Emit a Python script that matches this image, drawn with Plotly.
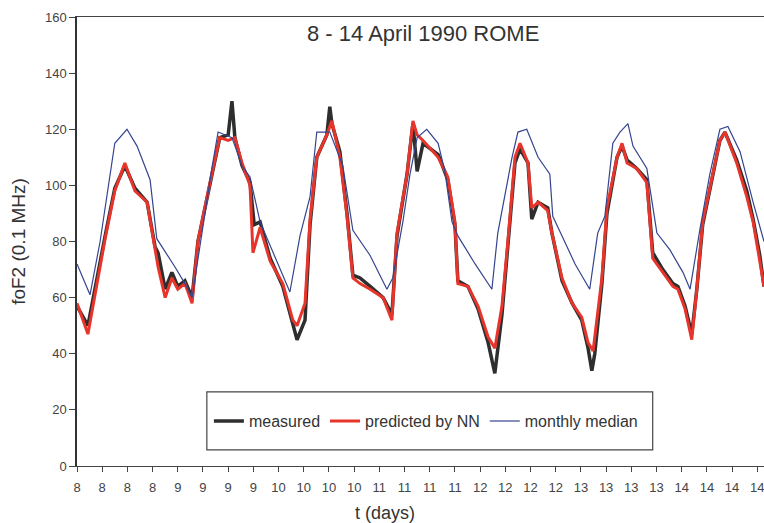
import plotly.graph_objects as go

# x values are hours since 8 April 00:00
tick_hours = list(range(0, 163, 6))
tick_labels = ["8", "8", "8", "8", "9", "9", "9", "9", "10", "10", "10", "10",
               "11", "11", "11", "11", "12", "12", "12", "12", "13", "13", "13", "13",
               "14", "14", "14", "14"]

t_measured = [0, 2.6, 6.7, 9.0, 11.4, 13.8, 16.7, 18.6, 19.3, 21, 22.6, 24, 25.7, 27.4,
              28.8, 32.1, 34, 36, 36.9, 37.6, 39.3, 41.2, 42.2, 43.6, 46, 49, 51.4, 52.4,
              54.3, 55.5, 57.1, 59.5, 60.2, 60.7, 62.6, 64.3, 65.7, 67.4, 69.8, 72.9, 75,
              76.2, 78.6, 80, 81, 82.4, 86, 88.3, 90, 90.7, 93.1, 95.5, 97.9, 99, 99.5,
              101.2, 102.6, 104.3, 105.5, 107.4, 108.3, 109.8, 112.1, 113.1, 115.5, 117.9,
              120.2, 121.7, 122.6, 123.3, 125, 126.2, 128.6, 129.8, 131, 133.3, 135.7,
              137.1, 139.5, 141.9, 143.1, 144.8, 146.4, 147.6, 149, 151.4, 153.1, 154.3,
              157.1, 159.5, 161, 162.6, 163.6]
v_measured = [57, 50, 82, 99, 107, 99, 94, 78, 76, 63, 69, 64, 66, 60,
              80, 104, 117, 118, 130, 117, 107, 101, 86, 87, 74, 64, 50, 45,
              52, 86, 110, 118, 128, 122, 112, 90, 68, 67, 64, 60, 54,
              82, 104, 122, 105, 115, 111, 102, 86, 66, 64, 56, 44, 36, 33,
              54, 80, 108, 113, 108, 88, 94, 92, 83, 66, 58,
              52, 42, 34, 40, 65, 90, 110, 114, 109, 106, 102,
              76, 70, 65, 64, 57, 47, 63, 86, 104, 116, 119,
              109, 98, 88, 75, 64]

t_predicted = [0, 2.6, 6.7, 9.0, 11.4, 13.8, 16.7, 18.6, 19.3, 21, 22.6, 24, 25.7, 27.4,
               28.8, 32.1, 34, 36, 37.6, 39.3, 41.2, 41.9, 43.6, 46, 49, 51.4, 52.4,
               54.3, 55.5, 57.1, 59.5, 60.7, 62.6, 64.3, 65.7, 67.4, 69.8, 72.9, 75,
               76.2, 78.6, 80, 81, 82.4, 86, 88.3, 90, 90.7, 93.1, 95.5, 97.9, 99.5,
               101.2, 102.6, 104.3, 105.5, 107.4, 108.3, 109.8, 112.1, 113.1, 115.5, 117.9,
               120.2, 121.7, 122.9, 125, 126.2, 128.6, 129.8, 131, 133.3, 135.7,
               137.1, 139.5, 141.9, 143.1, 144.8, 146.4, 147.6, 149, 151.4, 153.1, 154.3,
               157.1, 159.5, 161, 162.6, 163.6]
v_predicted = [58, 47, 81, 98, 108, 98, 94, 77, 71, 60, 67, 63, 65, 58,
               80, 104, 117, 116, 117, 108, 100, 76, 85, 73, 65, 52, 50,
               58, 88, 110, 118, 123, 110, 89, 67, 65, 63, 60, 52,
               83, 104, 123, 118, 116, 110, 103, 87, 65, 64, 57, 46, 42,
               57, 80, 110, 115, 108, 92, 94, 91, 83, 67, 58,
               53, 44, 41, 67, 92, 110, 115, 108, 106, 101,
               74, 69, 64, 63, 56, 45, 63, 87, 104, 116, 119,
               108, 96, 87, 73, 64]

t_median = [0, 3.1, 5.5, 9.0, 11.9, 14.3, 17.4, 19.0, 23.3, 25.7, 27.4, 29.8, 32.1, 33.6,
            36.9, 39.3, 41.2, 43.6, 50.7, 53.1, 55.5, 57.1, 60.2, 63.3, 65.7, 69.8, 73.8,
            75.2, 77.6, 79.3, 81.0, 83.3, 86.0, 87.6, 89.3, 90.7, 94.8, 98.8, 100.2, 103.6,
            105.0, 107.1, 109.8, 112.6, 113.3, 115.5, 118.6, 122.1, 124.0, 125.7, 127.6,
            129.3, 131.2, 132.4, 135.7, 138.1, 141.2, 144.3, 146.0, 148.3, 150.7, 153.1,
            155.0, 157.9, 161.0, 163.6]
v_median = [72, 61, 80, 115, 120, 114, 102, 81, 71, 65, 60, 84, 106, 119,
            117, 107, 103, 87, 62, 82, 96, 119, 119, 107, 84, 75, 63,
            67, 87, 104, 117, 120, 115, 105, 87, 82, 72, 63, 83, 110,
            119, 120, 110, 104, 89, 82, 72, 63, 83, 89, 115,
            119, 122, 114, 106, 83, 77, 69, 63, 84, 104, 120,
            121, 112, 94, 80]

fig = go.Figure()
fig.add_trace(go.Scatter(x=t_measured, y=v_measured, mode="lines", name="measured",
                         line=dict(color="#2e2e2e", width=3.5)))
fig.add_trace(go.Scatter(x=t_predicted, y=v_predicted, mode="lines", name="predicted by NN",
                         line=dict(color="#e8352b", width=3)))
fig.add_trace(go.Scatter(x=t_median, y=v_median, mode="lines", name="monthly median",
                         line=dict(color="#34448f", width=1.2)))

fig.update_layout(
    width=764, height=523,
    margin=dict(l=77, r=0, t=17, b=57),
    paper_bgcolor="white", plot_bgcolor="white",
    font=dict(family="Liberation Sans, Arial, sans-serif", color="#333333", size=12),
    showlegend=True,
    legend=dict(orientation="h", x=0.192, y=0.10, xanchor="left", yanchor="middle",
                bgcolor="rgba(0,0,0,0)", borderwidth=0, font=dict(size=16, color="#333"),
                itemwidth=30),
    shapes=[dict(type="rect", xref="paper", yref="paper", x0=0.189, x1=0.838,
                 y0=0.036, y1=0.165, line=dict(color="#444", width=1.2), fillcolor="white",
                 layer="below")],
    annotations=[
        dict(text="8 - 14 April 1990 ROME", xref="paper", yref="paper", x=0.503, y=0.964,
             showarrow=False, font=dict(size=22, color="#333"), xanchor="center", yanchor="middle"),
        dict(text="t (days)", xref="paper", yref="paper", x=0.448, y=-0.105,
             showarrow=False, font=dict(size=18, color="#333"), xanchor="center", yanchor="middle"),
    ],
)
fig.update_xaxes(range=[0, 163.6], tickmode="array", tickvals=tick_hours, ticktext=tick_labels,
                 showgrid=False, zeroline=False, showline=True, linecolor="#444", linewidth=1.2,
                 mirror=True, ticks="outside", ticklen=5, tickcolor="#444",
                 ticklabelstandoff=4, ticklabeloverflow="allow",
                 tickfont=dict(size=13, color="#444"))
fig.update_yaxes(range=[0, 160], tickmode="linear", tick0=0, dtick=20,
                 showgrid=False, zeroline=False, showline=True, linecolor="#333", linewidth=1.5,
                 ticks="outside", ticklen=6, tickcolor="#444",
                 tickfont=dict(size=13, color="#444"),
                 title=dict(text="foF2 (0.1 MHz)", font=dict(size=19, color="#333"), standoff=14))

fig.write_html("out.html")
